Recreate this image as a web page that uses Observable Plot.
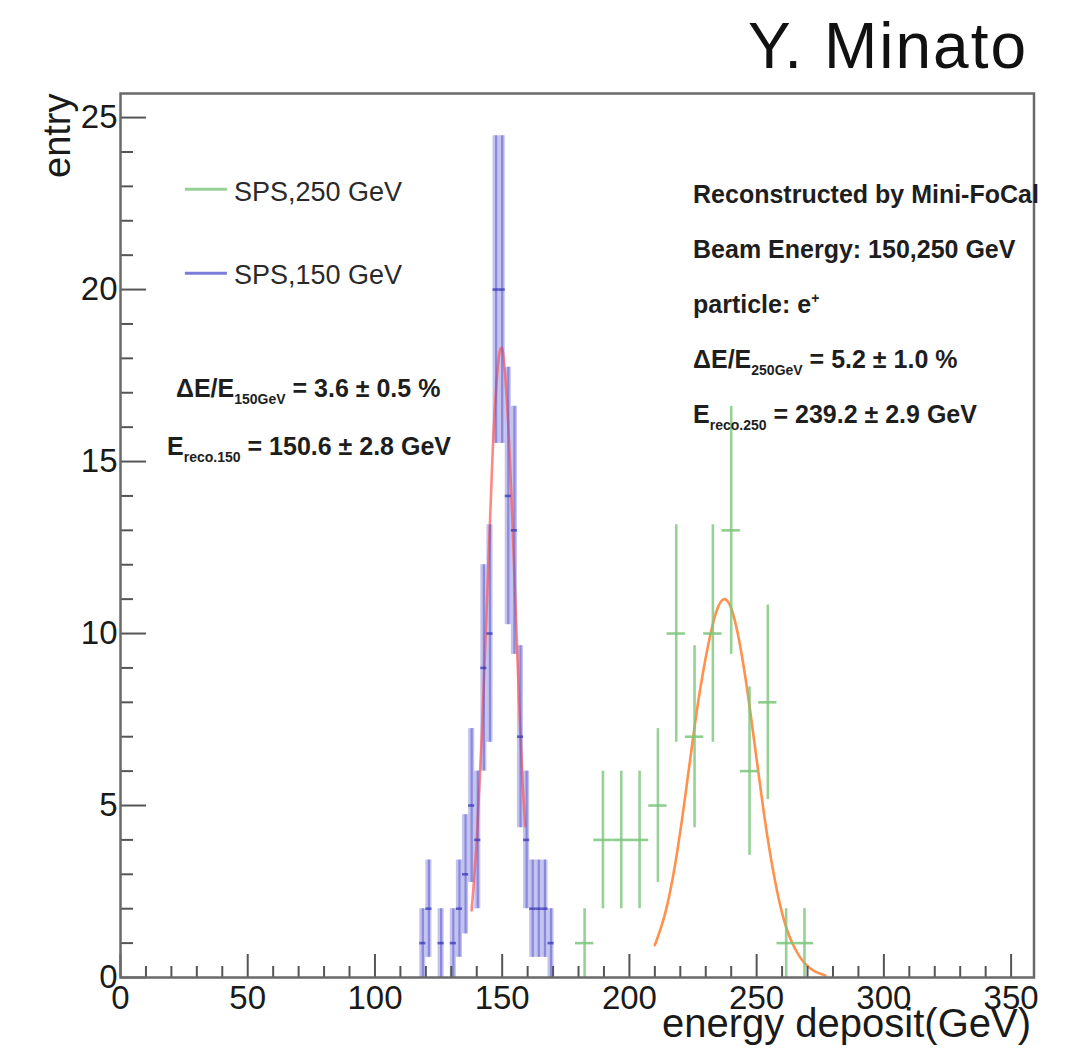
<!DOCTYPE html>
<html><head><meta charset="utf-8">
<script src="https://cdn.jsdelivr.net/npm/d3@7"></script>
<script src="https://cdn.jsdelivr.net/npm/@observablehq/plot@0.6"></script>
<style>
body{margin:0;background:#fff;font-family:"Liberation Sans",Arial,sans-serif;}
#title{height:80px;position:relative;width:1091px;}
#title span{position:absolute;right:63px;top:14px;font-size:64px;line-height:64px;letter-spacing:2px;color:#111;white-space:nowrap;}
#chart svg{display:block;}
</style></head><body>
<div id="title"><span>Y. Minato</span></div>
<div id="chart"></div>
<script>
// ---- data ----
const blueCenters = [118.8,121.2,123.6,126.0,128.4,130.8,133.2,135.6,138.0,140.4,142.8,145.2,147.6,150.0,152.4,154.8,157.2,159.6,162.0,164.4,166.8,169.2];
const blueCounts  = [1,2,0,1,0,1,2,3,5,4,9,10,20,20,14,13,7,4,2,2,2,1];
const blueBinWidth = 2.4;
const greenCenters = [182.4,189.6,196.8,204.0,211.2,218.4,225.6,232.8,240.0,247.2,254.4,261.6,268.8];
const greenCounts  = [1,4,4,4,5,10,7,10,13,6,8,1,1];
const greenBinWidth = 7.2;
const redFitX = [138,140,142,144,146,147,148,149,149.6,150.5,152,153,154,155,156,157,158,159];
const redFitY = [1.95,3.99,7.04,10.9,14.8,16.4,17.5,18.2,18.3,18.06,16.6,15.1,13.3,11.3,9.3,7.4,5.7,4.4];
const orangeFitX = [210,214,218,222,226,230,234,237.5,241,245,249,253,257,261,265,269,273,277];
const orangeFitY = [0.94,1.85,3.3,5.3,7.5,9.3,10.6,11.0,10.5,9.0,6.9,4.7,2.9,1.6,0.85,0.4,0.17,0.06];
const xMajorTicks = [0,50,100,150,200,250,300,350];
const xMinorTicks = [10,20,30,40,60,70,80,90,110,120,130,140,160,170,180,190,210,220,230,240,260,270,280,290,310,320,330,340];
const yMajorTicks = [0,5,10,15,20,25];
const yMinorTicks = [1,2,3,4,6,7,8,9,11,12,13,14,16,17,18,19,21,22,23,24];
const xLabel = "energy deposit(GeV)";
const yLabel = "entry";
const legendLabels = ["SPS,250 GeV", "SPS,150 GeV"];

// ---- build ----
const GREEN = "#7cc67c", BLUE = "#5a5ad0", RED = "#ff5454", ORANGE = "#ff914d";
const blue = blueCenters.map((c, i) => ({c, v: blueCounts[i]})).filter(d => d.v > 0);
const green = greenCenters.map((c, i) => ({c, v: greenCounts[i]})).filter(d => d.v > 0);
const redFit = redFitX.map((x, i) => ({x, y: redFitY[i]}));
const orangeFit = orangeFitX.map((x, i) => ({x, y: orangeFitY[i]}));

const W = 1091, H = 977, mT = 13, mB = 80, mL = 120, mR = 57.5;
const frameH = H - mT - mB, frameW = W - mL - mR;
const FONT = "'Liberation Sans', Arial, Helvetica, sans-serif";

const chart = Plot.plot({
  width: W, height: H,
  marginTop: mT, marginBottom: mB, marginLeft: mL, marginRight: mR,
  x: {domain: [0, 359]},
  y: {domain: [0, 25.7]},
  style: {fontFamily: FONT, fontSize: "33px", color: "#1a1a1a", background: "#fff", overflow: "visible"},
  marks: [
    // blue error boxes
    Plot.rect(blue, {x1: d => d.c - blueBinWidth / 2, x2: d => d.c + blueBinWidth / 2,
      y1: d => Math.max(0, d.v - Math.sqrt(d.v)), y2: d => d.v + Math.sqrt(d.v),
      fill: BLUE, fillOpacity: 0.36}),
    // fits
    Plot.line(redFit, {x: "x", y: "y", stroke: RED, strokeOpacity: 0.7, strokeWidth: 2.6, curve: "natural"}),
    Plot.line(orangeFit, {x: "x", y: "y", stroke: ORANGE, strokeWidth: 2.6, curve: "natural"}),
    // blue error bars + markers
    Plot.ruleX(blue, {x: "c", y1: d => Math.max(0, d.v - Math.sqrt(d.v)), y2: d => d.v + Math.sqrt(d.v),
      stroke: BLUE, strokeOpacity: 0.55, strokeWidth: 2.2}),
    Plot.ruleY(blue, {y: "v", x1: d => d.c - blueBinWidth / 2, x2: d => d.c + blueBinWidth / 2,
      stroke: "#3a3ab8", strokeOpacity: 0.75, strokeWidth: 2.6}),
    // green error bars + markers
    Plot.ruleX(green, {x: "c", y1: d => Math.max(0, d.v - Math.sqrt(d.v)), y2: d => d.v + Math.sqrt(d.v),
      stroke: GREEN, strokeOpacity: 0.8, strokeWidth: 2.6}),
    Plot.ruleY(green, {y: "v", x1: d => d.c - greenBinWidth / 2, x2: d => d.c + greenBinWidth / 2,
      stroke: GREEN, strokeOpacity: 0.85, strokeWidth: 2.6}),
    // inward ticks
    Plot.ruleX(xMajorTicks, {x: d => d, insetTop: frameH - 23, stroke: "#555", strokeWidth: 2}),
    Plot.ruleX(xMinorTicks, {x: d => d, insetTop: frameH - 11, stroke: "#555", strokeWidth: 2}),
    Plot.ruleY(yMajorTicks, {y: d => d, insetRight: frameW - 26, stroke: "#555", strokeWidth: 2}),
    Plot.ruleY(yMinorTicks, {y: d => d, insetRight: frameW - 13, stroke: "#555", strokeWidth: 2}),
    Plot.frame({stroke: "#6a6a6a", strokeWidth: 2.5}),
    Plot.axisX({ticks: xMajorTicks, tickSize: 0, tickPadding: 8, label: null, fontSize: 33}),
    Plot.axisY({ticks: yMajorTicks, tickSize: 0, tickPadding: 3, label: null, fontSize: 33}),
    Plot.text([xLabel], {frameAnchor: "bottom-right", text: d => d, textAnchor: "end", lineAnchor: "top",
      dx: -3, dy: 31, fontSize: 40, fill: "#1a1a1a"}),
    Plot.text([yLabel], {frameAnchor: "top-left", text: d => d, textAnchor: "end", rotate: -90,
      dx: -77, dy: 0, fontSize: 38, fill: "#1a1a1a"})
  ]
});
document.getElementById("chart").appendChild(chart);

// ---- legend & annotations placed through the chart's scales ----
const sx = chart.scale("x"), sy = chart.scale("y");
const X = v => sx.apply(v), Y = v => sy.apply(v);
const g = d3.select(chart).append("g").attr("font-family", FONT).attr("text-anchor", "start");

const legendItems = [
  {label: legendLabels[0], color: GREEN, lx0: 25.5, lx1: 42.0, ly: 22.9, tx: 44.8, ty: 22.57},
  {label: legendLabels[1], color: BLUE, lx0: 25.5, lx1: 42.0, ly: 20.46, tx: 44.8, ty: 20.15}
];
for (const e of legendItems) {
  g.append("line").attr("x1", X(e.lx0)).attr("x2", X(e.lx1)).attr("y1", Y(e.ly)).attr("y2", Y(e.ly))
    .attr("stroke", e.color).attr("stroke-width", 3).attr("stroke-opacity", 0.8);
  g.append("text").attr("x", X(e.tx)).attr("y", Y(e.ty)).attr("font-size", 27).attr("fill", "#2a2a2a").text(e.label);
}

const annotations = [
  {x: 22.0, y: 16.86, parts: [["ΔE/E"], ["150GeV", "sub"], [" = 3.6 ± 0.5 %"]]},
  {x: 18.5, y: 15.18, parts: [["E"], ["reco.150", "sub"], [" = 150.6 ± 2.8 GeV"]]},
  {x: 225.2, y: 22.50, parts: [["Reconstructed by Mini-FoCal"]]},
  {x: 225.2, y: 20.90, parts: [["Beam Energy: 150,250 GeV"]]},
  {x: 225.2, y: 19.30, parts: [["particle: e"], ["+", "sup"]]},
  {x: 225.2, y: 17.71, parts: [["ΔE/E"], ["250GeV", "sub"], [" = 5.2 ± 1.0 %"]]},
  {x: 225.2, y: 16.11, parts: [["E"], ["reco.250", "sub"], [" = 239.2 ± 2.9 GeV"]]}
];
for (const a of annotations) {
  const t = g.append("text").attr("x", X(a.x)).attr("y", Y(a.y)).attr("font-size", 25)
    .attr("font-weight", "bold").attr("fill", "#1e1e1e");
  let shift = 0;
  for (const [txt, kind] of a.parts) {
    const sp = t.append("tspan").text(txt);
    const target = kind === "sub" ? 7 : kind === "sup" ? -10 : 0;
    sp.attr("dy", target - shift);
    shift = target;
    if (kind) sp.attr("font-size", 14);
  }
}
</script></body></html>
